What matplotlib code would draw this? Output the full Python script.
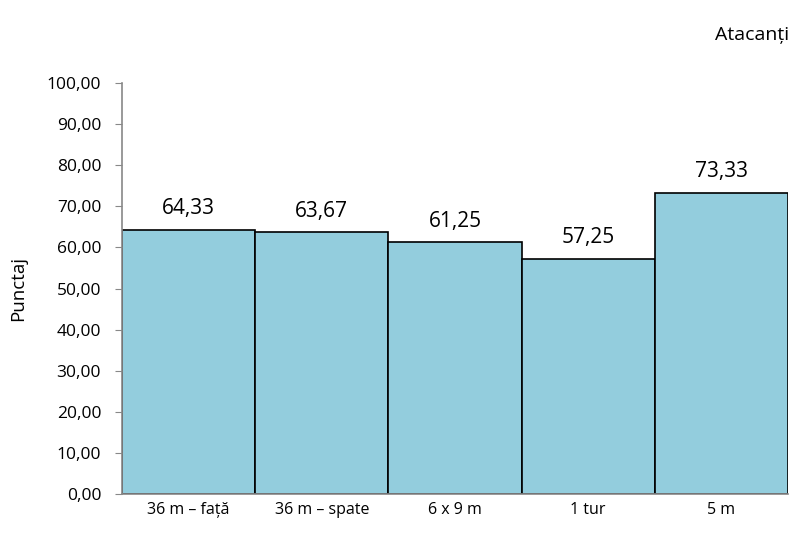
import matplotlib
matplotlib.use("Agg")
import matplotlib.pyplot as plt
from matplotlib.ticker import FuncFormatter

categories = ["36 m – față", "36 m – spate", "6 x 9 m", "1 tur", "5 m"]
scores = [64.33, 63.67, 61.25, 57.25, 73.33]
yticks = [0, 10, 20, 30, 40, 50, 60, 70, 80, 90, 100]

plt.rcParams['font.family'] = ['Open Sans', 'DejaVu Sans']

fig = plt.figure(figsize=(8, 5.36), dpi=100)
ax = fig.add_axes([0.1525, 0.0784, 0.8325, 0.7666])

x = list(range(len(categories)))
ax.bar(x, scores, width=1.0, color="#93CDDD", edgecolor="black", linewidth=1.2)

for xi, v in zip(x, scores):
    ax.text(xi, v + 2.5, f"{v:.2f}".replace(".", ","), ha="center", va="bottom",
            fontsize=15, color="black")

ax.set_xlim(-0.5, len(categories) - 0.5)
ax.set_ylim(0, 100)
ax.set_yticks(yticks)
ax.yaxis.set_major_formatter(FuncFormatter(lambda v, p: f"{v:.2f}".replace(".", ",")))
ax.set_xticks(x)
ax.set_xticklabels(categories, fontsize=11.5)
ax.tick_params(axis="x", length=0, pad=6)
ax.tick_params(axis="y", length=5, color="#888888", labelsize=12.5, pad=10)

for s in ["top", "right"]:
    ax.spines[s].set_visible(False)
for s in ["left", "bottom"]:
    ax.spines[s].set_color("#888888")
    ax.spines[s].set_linewidth(1.2)

ax.set_ylabel("Punctaj", fontsize=13.5, labelpad=14)
fig.text(0.987, 0.935, "Atacanți", ha="right", va="center", fontsize=14)

fig.savefig("out.png", dpi=100)
